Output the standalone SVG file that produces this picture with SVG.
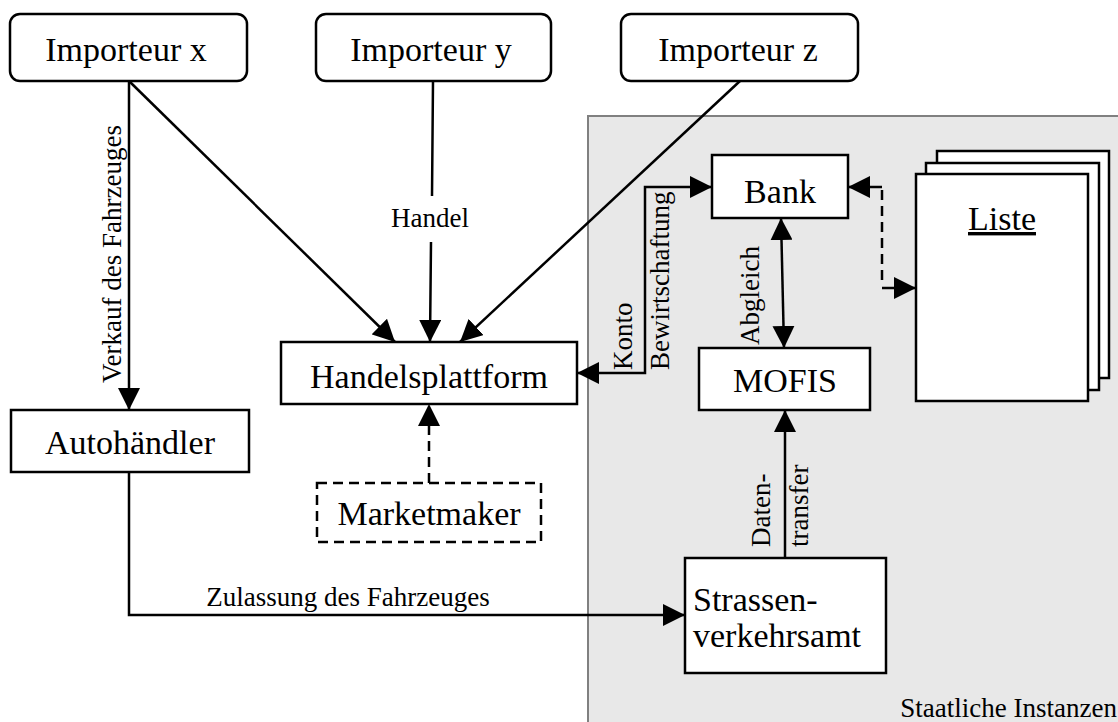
<svg xmlns="http://www.w3.org/2000/svg" width="1118" height="722" viewBox="0 0 1118 722">
<defs>
<marker id="arr" markerUnits="userSpaceOnUse" markerWidth="22" markerHeight="22" refX="22" refY="11" orient="auto-start-reverse" viewBox="0 0 22 22">
<path d="M0,0 L22,11 L0,22 z" fill="#000"/>
</marker>
<style>
.box{fill:#fff;stroke:#000;stroke-width:2.5}
.dbox{fill:#fff;stroke:#000;stroke-width:2.5;stroke-dasharray:10 6}
.nt{font-family:"Liberation Serif","Times New Roman",serif;font-size:34px;fill:#000}
.et{font-family:"Liberation Serif","Times New Roman",serif;font-size:27px;fill:#000}
.ln{fill:none;stroke:#000;stroke-width:2.5}
.dln{fill:none;stroke:#000;stroke-width:2.5;stroke-dasharray:10 6}
</style>
</defs>
<rect id="staatliche-instanzen" x="588" y="116" width="540" height="620" fill="#e8e8e8" stroke="#808080" stroke-width="2"/>
<text class="et" x="1117" y="717" text-anchor="end">Staatliche Instanzen</text>

<g id="connectors">
<path class="ln" d="M129,81 L129,410" marker-end="url(#arr)"/>
<path class="ln" d="M129,81 L395,342" marker-end="url(#arr)"/>
<path class="ln" d="M433,81 L432,196 M431,242 L430,342" marker-end="url(#arr)"/>
<path class="ln" d="M740,81 L460,342" marker-end="url(#arr)"/>
<path class="dln" d="M429,483 L429,404" marker-end="url(#arr)"/>
<path class="ln" d="M129,472 L129,615 L685,615" marker-end="url(#arr)"/>
<path class="ln" d="M785,558 L785,410" marker-end="url(#arr)"/>
<path class="ln" d="M781,218 L784,348" marker-start="url(#arr)" marker-end="url(#arr)"/>
<path class="ln" d="M712,187 L645,187 L645,373 L577,373" marker-start="url(#arr)" marker-end="url(#arr)"/>
<path class="ln" d="M848,187 L882,187" marker-start="url(#arr)"/>
<path class="dln" d="M882,190 L882,285"/>
<path class="ln" d="M882,288 L916,288" marker-end="url(#arr)"/>
<text class="et" x="430" y="227" text-anchor="middle">Handel</text>
<text class="et" transform="translate(121,383) rotate(-90)">Verkauf des Fahrzeuges</text>
<text class="et" x="348" y="606" text-anchor="middle">Zulassung des Fahrzeuges</text>
<text class="et" transform="translate(632,370) rotate(-90)">Konto</text>
<text class="et" transform="translate(669,370) rotate(-90)">Bewirtschaftung</text>
<text class="et" transform="translate(759,345) rotate(-90)">Abgleich</text>
<text class="et" transform="translate(770,547) rotate(-90)">Daten-</text>
<text class="et" transform="translate(808,547) rotate(-90)">transfer</text>
</g>

<g id="importeur-x">
<rect class="box" x="10" y="14" width="237" height="67" rx="10"/>
<text class="nt" x="126" y="61" text-anchor="middle">Importeur x</text>
</g>
<g id="importeur-y">
<rect class="box" x="316" y="14" width="235" height="67" rx="10"/>
<text class="nt" x="431" y="61" text-anchor="middle">Importeur y</text>
</g>
<g id="importeur-z">
<rect class="box" x="621" y="14" width="237" height="67" rx="10"/>
<text class="nt" x="738" y="61" text-anchor="middle">Importeur z</text>
</g>
<g id="autohaendler">
<rect class="box" x="11" y="410" width="238" height="62"/>
<text class="nt" x="130" y="454" text-anchor="middle">Autohändler</text>
</g>
<g id="handelsplattform">
<rect class="box" x="281" y="342" width="296" height="62"/>
<text class="nt" x="429" y="388" text-anchor="middle">Handelsplattform</text>
</g>
<g id="marketmaker">
<rect class="dbox" x="317" y="483" width="224" height="59"/>
<text class="nt" x="429" y="525" text-anchor="middle">Marketmaker</text>
</g>
<g id="bank">
<rect class="box" x="712" y="155" width="136" height="63"/>
<text class="nt" x="780" y="203" text-anchor="middle">Bank</text>
</g>
<g id="mofis">
<rect class="box" x="699" y="348" width="171" height="62"/>
<text class="nt" x="785" y="392" text-anchor="middle">MOFIS</text>
</g>
<g id="strassenverkehrsamt">
<rect class="box" x="685" y="558" width="201" height="115"/>
<text class="nt" x="693" y="611">Strassen-</text>
<text class="nt" x="693" y="647">verkehrsamt</text>
</g>
<g id="liste">
<rect class="box" x="937" y="151" width="172" height="227"/>
<rect class="box" x="926" y="163" width="173" height="227"/>
<rect class="box" x="916" y="174" width="172" height="227"/>
<text class="nt" x="1002" y="230" text-anchor="middle" text-decoration="underline">Liste</text>
</g>
</svg>
